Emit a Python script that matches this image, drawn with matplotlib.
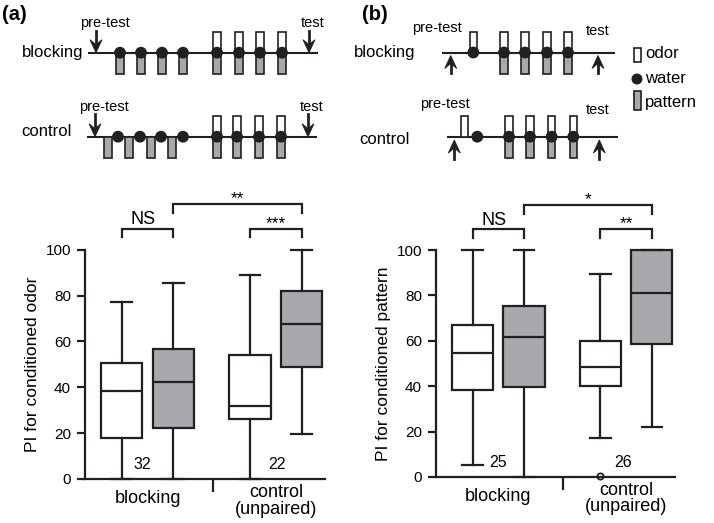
import matplotlib
matplotlib.use('Agg')
import matplotlib.pyplot as plt
from matplotlib.patches import Rectangle, Circle, Polygon

plt.rcParams['font.family'] = ['Liberation Sans', 'DejaVu Sans']

# ---------------- data ----------------
categories = ['blocking', 'control\n(unpaired)']
box_fill = ['white', 'gray', 'white', 'gray']

# PI for conditioned odor (panel a)
odor_whislo = [0, 0, 0, 19.6]
odor_q1 = [18.0, 22.4, 26.3, 48.8]
odor_med = [38.4, 42.2, 31.9, 67.5]
odor_q3 = [50.8, 56.8, 53.9, 81.8]
odor_whishi = [77.4, 85.3, 89.0, 100]
odor_fliers = [[], [], [], []]
odor_n = ['32', '22']
odor_sig = ['NS', '***', '**']

# PI for conditioned pattern (panel b)
pat_whislo = [5.1, 0, 17.3, 22.0]
pat_q1 = [38.3, 39.6, 40.1, 58.7]
pat_med = [54.5, 61.8, 48.6, 80.9]
pat_q3 = [66.8, 75.3, 59.9, 100]
pat_whishi = [100, 100, 89.6, 100]
pat_fliers = [[], [], [0.6], []]
pat_n = ['25', '26']
pat_sig = ['NS', '**', '*']

yticks = [0, 20, 40, 60, 80, 100]

# ---------------- style ----------------
DARK = '#231f20'
GRAY = '#a7a9ac'
W, H = 714, 523
fig = plt.figure(figsize=(W / 100, H / 100), dpi=100)

positions = [0, 1, 2.48, 3.48]


def box_panel(rect, whislo, q1, med, q3, whishi, fliers, ns, sig, ylabel,
              n_off, divider):
    ax = fig.add_axes(rect)
    stats = []
    for i in range(4):
        stats.append(dict(whislo=whislo[i], q1=q1[i], med=med[i], q3=q3[i],
                          whishi=whishi[i], fliers=fliers[i]))
    res = ax.bxp(stats, positions=positions, widths=0.8, patch_artist=True,
                 showfliers=True,
                 boxprops=dict(edgecolor=DARK, linewidth=1.6),
                 medianprops=dict(color=DARK, linewidth=1.6),
                 whiskerprops=dict(color=DARK, linewidth=1.6),
                 capprops=dict(color=DARK, linewidth=1.6),
                 flierprops=dict(marker='o', markersize=4.5, markerfacecolor='white',
                                 markeredgecolor=DARK, markeredgewidth=1.3))
    for patch, f in zip(res['boxes'], box_fill):
        patch.set_facecolor(GRAY if f == 'gray' else 'white')
    for key in res:
        for art in res[key]:
            art.set_clip_on(False)
    ax.set_xlim(-0.71, 3.93)
    ax.set_ylim(0, 100)
    for s in ['top', 'right']:
        ax.spines[s].set_visible(False)
    for s in ['left', 'bottom']:
        ax.spines[s].set_linewidth(1.6)
        ax.spines[s].set_color(DARK)
    ax.set_yticks(yticks)
    ax.tick_params(axis='y', length=6, width=1.6, color=DARK, labelsize=11, pad=4)
    ax.set_xticks([])
    ax.set_xticks([divider], minor=True)
    ax.tick_params(axis='x', which='minor', length=9, width=1.6, color=DARK,
                   labelbottom=False)
    ax.set_ylabel(ylabel, fontsize=12.5, labelpad=4)

    # category labels
    mids = [(positions[0] + positions[1]) / 2, (positions[2] + positions[3]) / 2]
    ax.text(mids[0], -8.5, categories[0], ha='center', va='center', fontsize=13)
    ax.text(mids[1], -9.6, categories[1], ha='center', va='center', fontsize=13,
            linespacing=0.95)
    # n labels
    ax.text(positions[0] + n_off[0], 6.2, ns[0], ha='center', va='center', fontsize=11.5)
    ax.text(positions[2] + n_off[1], 6.2, ns[1], ha='center', va='center', fontsize=11.5)

    # significance brackets
    def bracket(x0, x1, ytop, ylow, label):
        ax.plot([x0, x0, x1, x1], [ylow, ytop, ytop, ylow], color=DARK, lw=1.6,
                clip_on=False, solid_joinstyle='miter')
        if label == 'NS':
            ax.text((x0 + x1) / 2 - 0.08, ytop + 1.8, label, ha='center',
                    va='baseline', fontsize=13)
        else:
            ax.text((x0 + x1) / 2, ytop + 0.3, label, ha='center',
                    va='baseline', fontsize=12.5)

    bracket(positions[0], positions[1], 109.2, 105.4, sig[0])
    bracket(positions[2], positions[3], 109.2, 105.4, sig[1])
    bracket(positions[1], positions[3], 120.0, 115.8, sig[2])
    return ax


box_panel([85 / W, 1 - 479 / H, 240 / W, 229.3 / H], odor_whislo, odor_q1, odor_med,
          odor_q3, odor_whishi, odor_fliers, odor_n, odor_sig,
          'PI for conditioned odor', [0.39, 0.52], 1.77)
box_panel([436 / W, 1 - 477 / H, 239 / W, 227 / H], pat_whislo, pat_q1, pat_med,
          pat_q3, pat_whishi, pat_fliers, pat_n, pat_sig,
          'PI for conditioned pattern', [0.49, 0.45], 1.75)

# ---------------- schematic (pixel coordinates) ----------------
sch = fig.add_axes([0, 0, 1, 1], zorder=-1)
sch.set_xlim(0, W)
sch.set_ylim(H, 0)
sch.axis('off')
sch.patch.set_alpha(0)

LW = 1.5


def tline(x0, x1, y):
    sch.plot([x0, x1], [y, y], color=DARK, lw=LW, solid_capstyle='butt')


def odor(x, y, h=20.5):
    sch.add_patch(Rectangle((x - 3.6, y - h), 7.2, h, facecolor='white',
                            edgecolor=DARK, lw=1.2, zorder=3))


def pattern(x, y, h=21):
    sch.add_patch(Rectangle((x - 3.6, y), 7.2, h, facecolor=GRAY,
                            edgecolor=DARK, lw=1.2, zorder=3))


def water(x, y):
    sch.add_patch(Circle((x, y), 5.2, facecolor=DARK, edgecolor=DARK, zorder=4))


def arrow(x, tail, tip):
    d = 1 if tip > tail else -1
    notch = tip - d * 8
    back = tip - d * 13
    sch.plot([x, x], [tail, notch], color=DARK, lw=2.0, zorder=5)
    sch.add_patch(Polygon([(x, tip), (x - 6, back), (x, notch), (x + 6, back)],
                          closed=True, facecolor=DARK, edgecolor=DARK, lw=0.6,
                          joinstyle='miter', zorder=5))


def compound(xs, y):
    for x in xs:
        odor(x, y)
        pattern(x, y)
        water(x, y)


# panel labels
fig.text(2 / W, 1 - 14.5 / H, '(a)', fontsize=14.5, fontweight='bold', ha='left', va='center')
fig.text(362 / W, 1 - 14.5 / H, '(b)', fontsize=14.5, fontweight='bold', ha='left', va='center')

# (a) blocking
y = 52.7
tline(88, 318, y)
for x in [120, 141, 162, 183]:
    pattern(x, y)
    water(x, y)
compound([217, 239, 260, 282], y)
arrow(96, 31, y)
arrow(309, 31, y)
sch.text(83, 53, 'blocking', ha='right', va='center', fontsize=12)
sch.text(105, 23, 'pre-test', ha='center', va='center', fontsize=10.5)
sch.text(313, 23, 'test', ha='center', va='center', fontsize=10.5)

# (a) control
y = 136.7
tline(87, 317, y)
for x in [108, 129, 151, 172]:
    pattern(x, y)
for x in [118, 140, 161, 183]:
    water(x, y)
compound([217, 237, 259, 281], y)
arrow(95, 114, y)
arrow(308, 114, y)
sch.text(72, 132, 'control', ha='right', va='center', fontsize=12)
sch.text(104, 107, 'pre-test', ha='center', va='center', fontsize=10.5)
sch.text(312, 107, 'test', ha='center', va='center', fontsize=10.5)

# (b) blocking
y = 52.5
tline(442, 615, y)
odor(473.3, y)
water(473.3, y)
compound([504, 525, 547, 568], y)
arrow(450.7, 73, 55.5)
arrow(598, 73, 55.5)
sch.text(415, 52, 'blocking', ha='right', va='center', fontsize=12)
sch.text(437, 28, 'pre-test', ha='center', va='center', fontsize=10.5)
sch.text(598, 31, 'test', ha='center', va='center', fontsize=10.5)

# (b) control
y = 136.7
tline(447, 618, y)
odor(464.3, y)
water(477.3, y)
compound([509, 530, 551.7, 573.3], y)
arrow(454.3, 159, 140)
arrow(599.3, 159, 140)
sch.text(410, 140, 'control', ha='right', va='center', fontsize=12)
sch.text(445, 104, 'pre-test', ha='center', va='center', fontsize=10.5)
sch.text(598, 110, 'test', ha='center', va='center', fontsize=10.5)

# legend
sch.add_patch(Rectangle((633.5, 48), 7, 14, facecolor='white', edgecolor=DARK, lw=1.2))
sch.text(645, 54, 'odor', ha='left', va='center', fontsize=12)
sch.add_patch(Circle((637, 79), 4.8, facecolor=DARK, edgecolor=DARK))
sch.text(645, 78.5, 'water', ha='left', va='center', fontsize=12)
sch.add_patch(Rectangle((633.5, 91), 7, 19, facecolor=GRAY, edgecolor=DARK, lw=1.2))
sch.text(645, 103, 'pattern', ha='left', va='center', fontsize=12)

fig.savefig('out.png', dpi=100)
